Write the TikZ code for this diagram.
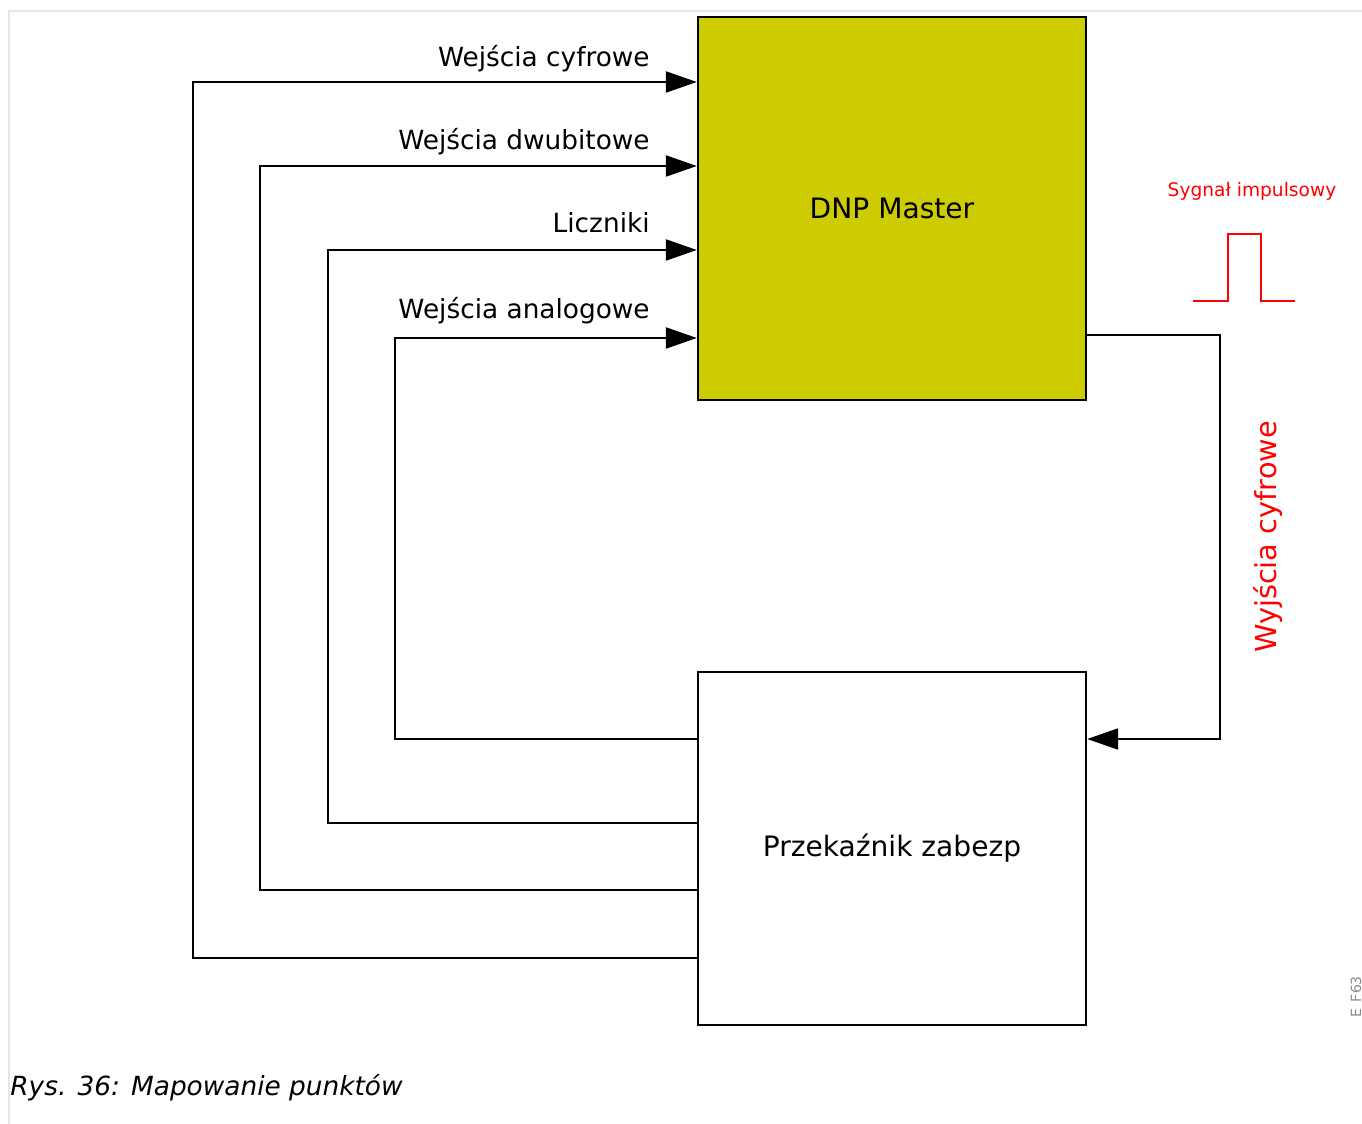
\documentclass[tikz,border=0pt]{standalone}
\usepackage{fontspec}
\setmainfont{DejaVu Sans}
\setsansfont{DejaVu Sans}
\usetikzlibrary{arrows.meta, positioning}
\definecolor{mapink}{HTML}{000000}
\definecolor{masterfill}{HTML}{CCCC00}
\definecolor{pulsered}{HTML}{FF0000}
\definecolor{pageframe}{HTML}{E6E6E6}
\definecolor{tagtext}{HTML}{8C8C8C}

\begin{document}
\begin{tikzpicture}[
    x=0.02cm, y=-0.02cm,
    font=\sffamily,
    link/.style={line width=1.3pt, mapink, -{Triangle[length=0.62cm, width=0.42cm]}},
    lab/.style={font=\sffamily\fontsize{15}{18}\selectfont, text=mapink, inner sep=0pt},
    unit/.style={draw=mapink, line width=1.4pt, minimum width=7.76cm,
                 font=\sffamily\fontsize{16}{19}\selectfont},
    pulse/.style={line width=1.2pt, pulsered},
]
\useasboundingbox (0,0) rectangle (1362,1124);

% page frame
\draw[pageframe, line width=1.1pt] (1362,11) -- (9,11) -- (9,1124);

% the two units
\node[unit, fill=masterfill, minimum height=7.66cm] (master) at (892,208.5) {DNP Master};
\node[unit, minimum height=7.06cm] (relay) at (892,848.5) {\raisebox{-2pt}{Przekaźnik zabezp}};

% point groups from the relay to the master
\foreach \x/\yt/\yb in {193/82/958, 260/166/890, 328/250/823, 395/338/739}
  \draw[link] (relay.west |- 0,\yb) -| (\x,\yt) -- (master.west |- 0,\yt);

\node[lab, anchor=base east] (lcyf) at (650,67)  {Wejścia cyfrowe};
\node[lab, anchor=base east] (ldwu) at (650,150) {Wejścia dwubitowe};
\node[lab, anchor=base east] (llic) at (650,233) {Liczniki};
\node[lab, anchor=base east] (lana) at (650,319) {Wejścia analogowe};

% digital outputs back to the relay
\draw[link] (master.east |- 0,335) -| (1220,739) -- (relay.east |- 0,739);
\node[lab, text=pulsered, font=\sffamily\fontsize{16.4}{20}\selectfont,
      rotate=90, anchor=base] (lwyj) at (1276,537) {Wyjścia cyfrowe};

% pulse signal
\node[lab, text=pulsered, font=\sffamily\fontsize{10.6}{13}\selectfont,
      anchor=base] (lpul) at (1252,197) {Sygnał impulsowy};
\draw[pulse] (1193,301) -- (1228,301) -- (1228,234) -- (1261,234)
  -- (1261,301) -- (1295,301);

% figure tag and caption
\node[lab, text=tagtext, font=\sffamily\fontsize{8}{10}\selectfont,
      rotate=90, anchor=base] (tag) at (1361,997) {E\_F63};
\node[lab, anchor=base west, font=\sffamily\itshape\fontsize{15}{18}\selectfont]
  (caption) at (10,1095) {Rys. 36: Mapowanie punktów};

\end{tikzpicture}
\end{document}
